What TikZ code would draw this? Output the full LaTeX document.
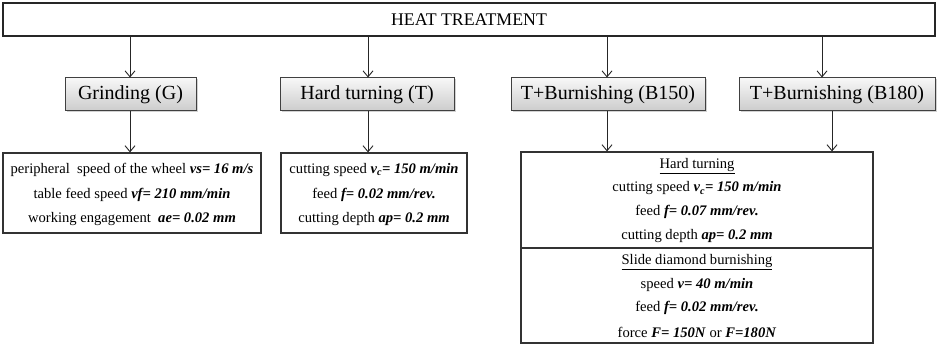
\documentclass[tikz,border=0pt]{standalone}
\usepackage{fontspec}
\setmainfont{Liberation Serif}
\usetikzlibrary{arrows.meta,shadows}
\newcommand{\pbi}[1]{\textbf{\textit{#1}}}
\begin{document}
\begin{tikzpicture}[x=1pt,y=-1pt,
  heatbox/.style={draw=black!85, line width=1.6pt, inner sep=0pt, minimum width=932pt, minimum height=33pt, font=\fontsize{17.8}{19}\selectfont},
  graybox/.style={draw=black!75, line width=1pt, top color=gray!6, bottom color=gray!40, drop shadow={shadow xshift=1.5pt, shadow yshift=-1.5pt, opacity=0.35}, minimum height=33pt, inner sep=0pt, font=\fontsize{20}{22}\selectfont},
  parbox/.style={draw=black!80, line width=1.2pt, inner sep=0pt},
  txt/.style={inner sep=0pt, font=\fontsize{14.6}{16}\selectfont},
  arr/.style={draw=black!85, line width=0.9pt, -{Straight Barb[length=6pt,width=10pt]}}
]
\useasboundingbox (0,0) rectangle (941,347);
\fill[white] (0,0) rectangle (941,347);

% top box
\node[heatbox] (heat) at (469,19.5) {HEAT TREATMENT};

% gray boxes
\node[graybox, minimum width=131pt] (G) at (130.5,94.5) {Grinding (G)};
\node[graybox, minimum width=174pt] (T) at (367,94.5) {Hard turning (T)};
\node[graybox, minimum width=194pt] (B150) at (608,94.5) {T+Burnishing (B150)};
\node[graybox, minimum width=196pt] (B180) at (837,94.5) {T+Burnishing (B180)};

% parameter boxes
\node[parbox, minimum width=258pt, minimum height=80pt] (pG) at (132,193) {};
\node[parbox, minimum width=186pt, minimum height=80pt] (pT) at (374,193) {};
\node[parbox, minimum width=352pt, minimum height=96pt] (pB1) at (697,200) {};
\node[parbox, minimum width=352pt, minimum height=95pt] (pB2) at (697,295.5) {};

% x positions of connectors
\coordinate (xg) at (130,0);
\coordinate (xt) at (368,0);
\coordinate (xb1) at (607,0);
\coordinate (xb2t) at (822,0);
\coordinate (xb2b) at (832,0);

% arrows from heat treatment
\draw[arr] (heat.south -| xg) -- (G.north -| xg);
\draw[arr] (heat.south -| xt) -- (T.north -| xt);
\draw[arr] (heat.south -| xb1) -- (B150.north -| xb1);
\draw[arr] (heat.south -| xb2t) -- (B180.north -| xb2t);

% arrows to parameter boxes
\draw[arr] (G.south -| xg) -- (pG.north -| xg);
\draw[arr] (T.south -| xt) -- (pT.north -| xt);
\draw[arr] (B150.south -| xb1) -- (pB1.north -| xb1);
\draw[arr] (B180.south -| xb2b) -- (pB1.north -| xb2b);

% grinding text
\node[txt] (g1) at (132,170) {peripheral\ \ speed of the wheel \pbi{vs= 16 m/s}};
\node[txt] (g2) at (132,194.5) {table feed speed \pbi{vf= 210 mm/min}};
\node[txt] (g3) at (132,219) {working engagement\ \ \pbi{ae= 0.02 mm}};

% hard turning text
\node[txt] (t1) at (374,170) {cutting speed \pbi{v\textsubscript{c}= 150 m/min}};
\node[txt] (t2) at (374,194.5) {feed \pbi{f= 0.02 mm/rev.}};
\node[txt] (t3) at (374,219) {cutting depth \pbi{ap= 0.2 mm}};

% burnishing text
\node[txt] (b1) at (697,166) {\underline{Hard turning}};
\node[txt] (b2) at (697,188.5) {cutting speed \pbi{v\textsubscript{c}= 150 m/min}};
\node[txt] (b3) at (697,212) {feed \pbi{f= 0.07 mm/rev.}};
\node[txt] (b4) at (697,236) {cutting depth \pbi{ap= 0.2 mm}};
\node[txt] (b5) at (697,262) {\underline{Slide diamond burnishing}};
\node[txt] (b6) at (697,284.5) {speed \pbi{v= 40 m/min}};
\node[txt] (b7) at (697,308) {feed \pbi{f= 0.02 mm/rev.}};
\node[txt] (b8) at (697,332) {force \pbi{F= 150N} or \pbi{F=180N}};
\end{tikzpicture}
\end{document}
